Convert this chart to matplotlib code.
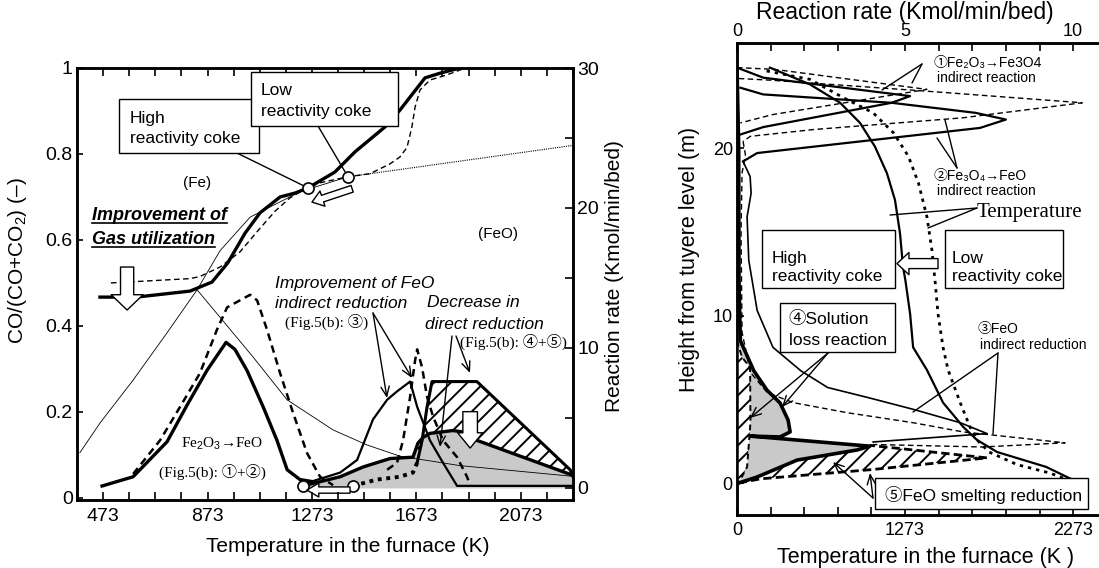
import numpy as np
import matplotlib
matplotlib.use("Agg")
import matplotlib.pyplot as plt
from matplotlib.patches import Rectangle, FancyArrowPatch, ArrowStyle
from matplotlib.lines import Line2D
from matplotlib.transforms import IdentityTransform
from matplotlib.ticker import FixedLocator

plt.rcParams["font.family"] = ["Liberation Sans", "Noto Sans CJK JP", "DejaVu Sans"]
plt.rcParams["mathtext.fontset"] = "custom"
plt.rcParams["mathtext.rm"] = "Liberation Sans"
plt.rcParams["mathtext.it"] = "Liberation Sans:italic"
plt.rcParams["hatch.linewidth"] = 1.4

W, H = 1099, 568
SERIF = ["Liberation Serif", "Noto Sans CJK JP", "DejaVu Serif"]

# ── Left panel: gas utilisation (left axis) ──────────────────────────────────
co_high_T = [461, 600, 806, 890, 951, 1017, 1074, 1151, 1208, 1258, 1361, 1438, 1553, 1610, 1706, 1764, 1840]
co_high = [0.467, 0.467, 0.481, 0.502, 0.547, 0.616, 0.663, 0.70, 0.709, 0.721, 0.758, 0.805, 0.863, 0.902, 0.977, 0.988, 1.0]
co_low_T = [503, 806, 844, 921, 997, 1074, 1132, 1189, 1246, 1304, 1411, 1495, 1572, 1610, 1637, 1656, 1668, 1687, 1725, 1790, 1852]
co_low = [0.50, 0.51, 0.515, 0.537, 0.572, 0.627, 0.667, 0.698, 0.718, 0.733, 0.747, 0.754, 0.777, 0.793, 0.815, 0.863, 0.909, 0.949, 0.972, 0.984, 0.998]
eq_up_T = [384, 461, 588, 718, 833, 921, 1036, 1227, 1411]
eq_up = [0.105, 0.174, 0.274, 0.384, 0.484, 0.575, 0.653, 0.712, 0.747]
eq_far_T = [1411, 2273]
eq_far = [0.747, 0.82]
eq_down_T = [833, 921, 1047, 1178, 1354, 1484, 1610, 1840, 2273]
eq_down = [0.484, 0.42, 0.328, 0.228, 0.158, 0.123, 0.097, 0.075, 0.05]
circ_co_T = [1258, 1411]
circ_co = [0.721, 0.747]

# ── Left panel: reaction rates (right axis) ──────────────────────────────────
fe2o3_high_T = [469, 588, 718, 794, 871, 944, 978, 1024, 1086, 1139, 1178, 1227, 1292]
fe2o3_high = [0.14, 0.8, 3.3, 5.9, 8.4, 10.4, 9.9, 8.4, 5.8, 3.4, 1.3, 0.6, 0.4]
fe2o3_low_T = [588, 691, 768, 844, 909, 948, 997, 1036, 1063, 1101, 1151, 1200, 1254, 1304, 1354]
fe2o3_low = [1.0, 3.4, 5.8, 8.2, 11.3, 12.9, 13.4, 13.8, 13.4, 11.3, 8.2, 5.4, 2.5, 0.8, 0.2]
feo_ind_high_T = [1227, 1381, 1446, 1507, 1561, 1599, 1649, 1676, 1725, 1775, 1829, 2273]
feo_ind_high = [0.2, 1.1, 2.0, 4.9, 6.3, 6.9, 7.6, 5.8, 3.4, 1.8, 0.15, 0.15]
feo_ind_low_T = [1561, 1599, 1622, 1649, 1668, 1676, 1695, 1714, 1737, 1775, 1829, 1867, 1879]
feo_ind_low = [1.3, 1.8, 3.4, 6.5, 9.1, 9.9, 8.6, 6.5, 5.1, 3.4, 2.2, 0.8, 0.2]
direct_low_T = np.array([1430, 1522, 1610, 1660, 1676, 1695, 1714, 1733, 1905, 2262, 2273])
direct_low = np.array([0.15, 0.6, 0.8, 1.1, 1.8, 3.4, 5.8, 7.6, 7.6, 1.3, 0.8])
direct_high_T = np.array([1239, 1381, 1469, 1572, 1660, 1679, 1698, 1725, 1813, 1852, 1905, 2273])
direct_high = np.array([0.15, 0.8, 1.5, 2.1, 2.2, 3.2, 3.6, 3.9, 4.1, 4.0, 3.4, 0.9])
circ_rate_T = [1239, 1430]
circ_rate = [0.15, 0.15]

# ── Right panel: temperature profiles (K) vs height (m) ──────────────────────
temp_high_T = [469, 707, 887, 1005, 1093, 1165, 1213, 1243, 1261, 1275, 1303, 1321, 1403, 1499, 1619, 1701, 1821, 2113, 2273, 2313]
temp_high_h = [24.8, 23.8, 22.7, 21.5, 20.1, 18.5, 16.9, 14.9, 12.9, 12.1, 10.1, 8.1, 6.75, 4.8, 3.35, 2.57, 1.85, 0.96, 0.18, 0.0]
temp_low_T = [449, 707, 907, 1083, 1205, 1293, 1353, 1403, 1433, 1453, 1469, 1499, 1529, 1601, 1659, 1701, 1773, 1939, 2133, 2293]
temp_low_h = [24.6, 24.1, 23.0, 22.1, 20.9, 19.5, 17.9, 15.9, 13.9, 11.9, 10.1, 8.1, 6.75, 4.8, 3.35, 2.57, 1.85, 1.1, 0.6, 0.0]

# ── Right panel: reaction rates (Kmol/min/bed) vs height (m) ─────────────────
r1_high = [0, 0.78, 5.15, 4.6, 0.78, 0.09]
h1_high = [24.8, 24.2, 23.1, 22.7, 21.25, 20.8]
r2_high = [0.1, 0.78, 4.6, 7.1, 8.0, 7.23, 0.6, 0.18]
h2_high = [23.6, 23.2, 22.7, 22.1, 21.7, 21.2, 19.7, 19.2]
r1_low = [0, 1.1, 5.65, 1.07, 0.1]
h1_low = [24.8, 24.7, 23.5, 22.0, 21.5]
r2_low = [0.05, 1.0, 5.6, 10.27, 6.7, 2.26, 0.4, 0.18]
h2_low = [24.15, 24.05, 23.4, 22.7, 21.8, 21.1, 20.7, 20.4]
r3_high = [0.18, 0.39, 0.42, 0.3, 0.35, 0.6, 1.07, 1.9, 2.7, 3.9, 5.24, 6.64, 7.44, 4.05]
h3_high = [19.2, 18.3, 17.3, 15.9, 13.3, 10.3, 8.1, 6.7, 5.7, 5.1, 4.4, 3.6, 2.95, 2.45]
r3_low = [0.18, 0.25, 0.15, 0.12, 0.15, 0.4, 0.9, 1.67, 3.27, 5.24, 6.73, 9.76, 7.3, 4.05]
h3_low = [20.4, 19.6, 18.5, 15.0, 9.0, 6.6, 5.4, 4.8, 4.2, 3.6, 3.05, 2.4, 2.15, 2.3]
r45_high = [0.0, 0.05, 0.06, 0.1, 0.5, 0.89, 1.28, 1.52, 1.58, 1.28, 0.39, 3.95, 3.57, 1.79, 0.6, 0.05]
h45_high = [24.8, 20.0, 12.0, 8.5, 6.7, 5.55, 4.78, 3.76, 3.05, 2.75, 2.8, 2.2, 1.97, 1.37, 0.36, 0.0]
r4_low = [0.0, 0.15, 0.39, 0.4, 0.3, 0.1, 0.0]
h4_low = [8.5, 7.5, 6.9, 3.6, 0.96, 0.2, 0.0]
r5_low = [0.05, 0.7, 4.0, 7.44, 3.95, 3.57, 1.79, 0.6]
h5_low = [0.0, 0.25, 0.8, 1.5, 2.25, 1.97, 1.37, 0.36]

fig = plt.figure(figsize=(W / 100, H / 100), dpi=100)


def label(x, y, s, **kw):
    return fig.text(x / W, 1 - y / H, s, zorder=6, **kw)


def box(x0, y0, x1, y1):
    fig.add_artist(Rectangle((x0, H - y1), x1 - x0, y1 - y0, transform=IdentityTransform(),
                             fc="white", ec="black", lw=1.0, zorder=5))


def leader(x1, y1, x2, y2, head=False):
    style = "->,head_length=0.7,head_width=0.3" if head else "-"
    fig.add_artist(FancyArrowPatch((x1, H - y1), (x2, H - y2), transform=IdentityTransform(),
                                   arrowstyle=style, mutation_scale=10, lw=1.0, color="black",
                                   shrinkA=0, shrinkB=0, zorder=6))


def hollow(axis, tail, tip, tw, hw, hl):
    axis.annotate("", xy=tip, xytext=tail, zorder=8,
                  arrowprops=dict(arrowstyle=ArrowStyle.Simple(head_length=hl, head_width=hw, tail_width=tw),
                                  fc="white", ec="black", lw=1.0, shrinkA=0, shrinkB=0, mutation_scale=10))


# ── Left panel ───────────────────────────────────────────────────────────────
ax = fig.add_axes([77 / W, 1 - 500 / H, 496 / W, 432 / H])
axr = ax.twinx()
ax.set_zorder(axr.get_zorder() + 1)
ax.patch.set_visible(False)
ax.set_xlim(373, 2273)
ax.set_ylim(-0.005, 1.0)
axr.set_ylim(-0.86, 30)

# rate curves
axr.fill_between(direct_high_T, direct_high, 0, color="#c9c9c9", lw=0, zorder=1)
sel = direct_low_T <= 1676
lo = direct_low_T >= 1676
hi = direct_high_T >= 1676
axr.fill(np.concatenate([direct_low_T[lo], direct_high_T[hi][::-1]]),
         np.concatenate([direct_low[lo], direct_high[hi][::-1]]),
         facecolor="white", edgecolor="black", lw=0, hatch="//", zorder=1.2)
axr.plot(fe2o3_high_T, fe2o3_high, color="black", lw=2.4, zorder=3)
axr.plot(fe2o3_low_T, fe2o3_low, color="black", lw=1.8, ls=(0, (3, 2)), zorder=3)
axr.plot(feo_ind_high_T, feo_ind_high, color="black", lw=1.6, zorder=3)
axr.plot(feo_ind_low_T, feo_ind_low, color="black", lw=1.8, ls=(0, (3, 2)), zorder=3)
axr.plot(direct_low_T[sel], direct_low[sel], color="black", lw=2.8, ls=(0, (1, 1.2)), zorder=3)
axr.plot(direct_low_T[lo], direct_low[lo], color="black", lw=2.2, zorder=3)
axr.plot(direct_high_T, direct_high, color="black", lw=2.4, zorder=3)
axr.plot(circ_rate_T, circ_rate, "o", ms=8, mfc="white", mec="black", mew=1.2, zorder=4)

# CO curves
ax.plot(eq_up_T, eq_up, color="black", lw=0.6, zorder=2)
ax.plot(eq_far_T, eq_far, color="black", lw=0.8, ls=(0, (1, 1)), zorder=2)
ax.plot(eq_down_T, eq_down, color="black", lw=0.6, zorder=2)
ax.plot(co_low_T, co_low, color="black", lw=1.0, ls=(0, (4, 2.5)), zorder=3)
ax.plot(co_high_T, co_high, color="black", lw=2.4, zorder=3)
ax.plot(circ_co_T, circ_co, "o", ms=8, mfc="white", mec="black", mew=1.2, zorder=5)

ax.set_xticks([473, 873, 1273, 1673, 2073])
ax.xaxis.set_minor_locator(FixedLocator(np.arange(373, 2274, 100)))
ax.tick_params(axis="x", which="both", direction="in", top=True, length=6, width=1.2, labelsize=14, pad=6)
ax.set_yticks([0, 0.2, 0.4, 0.6, 0.8, 1.0])
ax.set_yticklabels(["0", "0.2", "0.4", "0.6", "0.8", "1"])
ax.tick_params(axis="y", direction="in", length=4, width=1.2, labelsize=14, pad=3, right=False)
axr.set_yticks([0, 10, 20, 30])
axr.yaxis.set_minor_locator(FixedLocator([5, 15, 25]))
axr.tick_params(axis="y", which="both", direction="in", length=6, width=1.2, labelsize=14, pad=3)
for a in (ax, axr):
    for sp in a.spines.values():
        sp.set_linewidth(1.8)

hollow(ax, (565, 0.537), (565, 0.437), tw=0.95, hw=2.3, hl=1.1)
hollow(ax, (1427, 0.719), (1273, 0.688), tw=0.5, hw=1.15, hl=0.8)
hollow(axr, (1419, -0.15), (1254, -0.15), tw=0.45, hw=1.0, hl=0.85)
hollow(axr, (1879, 5.45), (1879, 2.85), tw=1.05, hw=1.8, hl=1.1)

label(18, 261, "CO/(CO+CO$_2$) (–)", rotation=90, ha="center", va="center", fontsize=15)
label(348, 547, "Temperature in the furnace (K)", ha="center", va="center", fontsize=15)
label(615, 276, "Reaction rate (Kmol/min/bed)", rotation=90, ha="center", va="center", fontsize=15)

box(119, 99, 259, 153)
label(130, 123, "High", fontsize=12.5, va="baseline")
label(130, 143, "reactivity coke", fontsize=12.5, va="baseline")
box(251, 72, 398, 126)
label(261, 95, "Low", fontsize=12.5, va="baseline")
label(261, 116, "reactivity coke", fontsize=12.5, va="baseline")
ax.annotate("", xy=(circ_co_T[0], circ_co[0]), xycoords="data", xytext=(237, H - 153),
            textcoords="figure pixels", arrowprops=dict(arrowstyle="-", lw=1.0, shrinkA=0, shrinkB=4))
ax.annotate("", xy=(circ_co_T[1], circ_co[1]), xycoords="data", xytext=(318, H - 126),
            textcoords="figure pixels", arrowprops=dict(arrowstyle="-", lw=1.0, shrinkA=0, shrinkB=4))

label(197, 187, "(Fe)", fontsize=11, ha="center", va="baseline")
label(498, 238, "(FeO)", fontsize=11, ha="center", va="baseline")
u1 = label(92, 220, "Improvement of", fontsize=13, fontweight="bold", style="italic", va="baseline")
u2 = label(92, 244, "Gas utilization", fontsize=13, fontweight="bold", style="italic", va="baseline")
label(275, 288, "Improvement of FeO", fontsize=12.5, style="italic", va="baseline")
label(275, 308, "indirect reduction", fontsize=12.5, style="italic", va="baseline")
label(285, 327, "(Fig.5(b): ③)", fontsize=11, va="baseline", family=SERIF)
label(427, 307, "Decrease in", fontsize=12.5, style="italic", va="baseline")
label(425, 329, "direct reduction", fontsize=12.5, style="italic", va="baseline")
label(460, 347, "(Fig.5(b): ④+⑤)", fontsize=11, va="baseline", family=SERIF)
label(222, 448, "Fe$_2$O$_3$→FeO", fontsize=11, ha="center", va="baseline", family=SERIF)
label(212, 477, "(Fig.5(b): ①+②)", fontsize=11, ha="center", va="baseline", family=SERIF)
leader(373, 313, 387, 398, head=True)
leader(373, 313, 412, 378, head=True)
leader(452, 336, 440, 447, head=True)
leader(456, 336, 470, 373, head=True)

# ── Right panel ──────────────────────────────────────────────────────────────
RMAX = 10.77
ax2 = fig.add_axes([737 / W, 1 - 515 / H, 362 / W, 472 / H])
ax2.set_xlim(273, 273 + 200 * RMAX)
ax2.set_ylim(-1.91, 26.27)
axT = ax2.twiny()
axT.set_xlim(0, RMAX)

ax2.plot(temp_high_T, temp_high_h, color="black", lw=1.6, zorder=3)
ax2.plot(temp_low_T, temp_low_h, color="black", lw=2.0, ls=(0, (1.2, 1.8)), zorder=3)

axT.fill(r45_high, h45_high, color="#c9c9c9", lw=0, zorder=1)
axT.fill(r4_low, h4_low, facecolor="white", edgecolor="black", lw=0, hatch="//", zorder=1.2)
axT.fill(r5_low, h5_low, facecolor="white", edgecolor="black", lw=0, hatch="//", zorder=1.2)
axT.plot(r45_high, h45_high, color="black", lw=2.6, zorder=3)
axT.plot(r4_low, h4_low, color="black", lw=1.4, ls=(0, (3, 2)), zorder=3)
axT.plot(r5_low[:5], h5_low[:5], color="black", lw=2.0, ls=(0, (3, 1.5)), zorder=3)
axT.plot(r1_high, h1_high, color="black", lw=1.6, zorder=3)
axT.plot(r2_high, h2_high, color="black", lw=1.6, zorder=3)
axT.plot(r1_low, h1_low, color="black", lw=1.0, ls=(0, (4, 2.5)), zorder=3)
axT.plot(r2_low, h2_low, color="black", lw=1.0, ls=(0, (4, 2.5)), zorder=3)
axT.plot(r3_high, h3_high, color="black", lw=1.2, zorder=3)
axT.plot(r3_low, h3_low, color="black", lw=1.0, ls=(0, (4, 2.5)), zorder=3)

ax2.set_xticks([273, 1273, 2273])
ax2.set_xticklabels(["0", "1273", "2273"])
ax2.xaxis.set_minor_locator(FixedLocator(np.arange(273, 2300, 200)))
ax2.tick_params(axis="x", which="both", direction="in", length=6, width=1.2, labelsize=13, pad=5)
ax2.set_yticks([0, 10, 20])
ax2.tick_params(axis="y", direction="in", length=5, width=1.2, labelsize=13, pad=3)
axT.set_xticks([0, 5, 10])
axT.xaxis.set_minor_locator(FixedLocator(np.arange(0, 11, 1)))
axT.tick_params(axis="x", which="both", direction="in", length=6, width=1.2, labelsize=13, pad=2)
for a in (ax2, axT):
    a.spines["right"].set_visible(False)
    for sp in a.spines.values():
        sp.set_linewidth(1.8)

hollow(axT, (5.98, 13.1), (4.76, 13.1), tw=0.72, hw=1.6, hl=0.86)

label(905, 13, "Reaction rate (Kmol/min/bed)", ha="center", va="center", fontsize=16.5)
label(926, 557, "Temperature in the furnace (K )", ha="center", va="center", fontsize=15.5)
label(690, 259, "Height from tuyere level (m)", rotation=90, ha="center", va="center", fontsize=15.5)

label(933, 67, "①Fe₂O₃→Fe3O4", fontsize=10, va="baseline")
label(937, 82, "indirect reaction", fontsize=10, va="baseline")
leader(922, 64, 882, 90)
leader(922, 64, 912, 83)
label(933, 180, "②Fe₃O₄→FeO", fontsize=10, va="baseline")
label(937, 195, "indirect reaction", fontsize=10, va="baseline")
leader(957, 168, 945, 120)
leader(957, 168, 937, 138)
label(977, 217, "Temperature", fontsize=15, va="baseline", family=SERIF)
leader(977, 208, 890, 215)
leader(977, 208, 928, 228)

box(762, 230, 895, 288)
label(772, 263, "High", fontsize=12.5, va="baseline")
label(772, 281, "reactivity coke", fontsize=12.5, va="baseline")
box(945, 230, 1063, 288)
label(952, 263, "Low", fontsize=12.5, va="baseline")
label(952, 281, "reactivity coke", fontsize=12.5, va="baseline")

box(780, 303, 895, 352)
label(788, 324, "④Solution", fontsize=12.5, va="baseline")
label(789, 345, "loss reaction", fontsize=12.5, va="baseline")
leader(828, 353, 750, 418, head=True)
leader(828, 353, 782, 407, head=True)

label(978, 333, "③FeO", fontsize=10, va="baseline")
label(980, 349, "indirect reduction", fontsize=10, va="baseline")
leader(998, 353, 913, 412)
leader(998, 353, 993, 434)

box(875, 478, 1088, 509)
label(885, 501, "⑤FeO smelting reduction", fontsize=12.5, va="baseline")
leader(873, 498, 833, 462, head=True)
leader(873, 498, 870, 473, head=True)

# underline the bold italic note
fig.canvas.draw()
for t, yline in ((u1, 223), (u2, 247)):
    bb = t.get_window_extent()
    fig.add_artist(Line2D([bb.x0, bb.x1], [H - yline, H - yline], transform=IdentityTransform(),
                          color="black", lw=1.2, zorder=6))

fig.savefig("out.png", dpi=100)
